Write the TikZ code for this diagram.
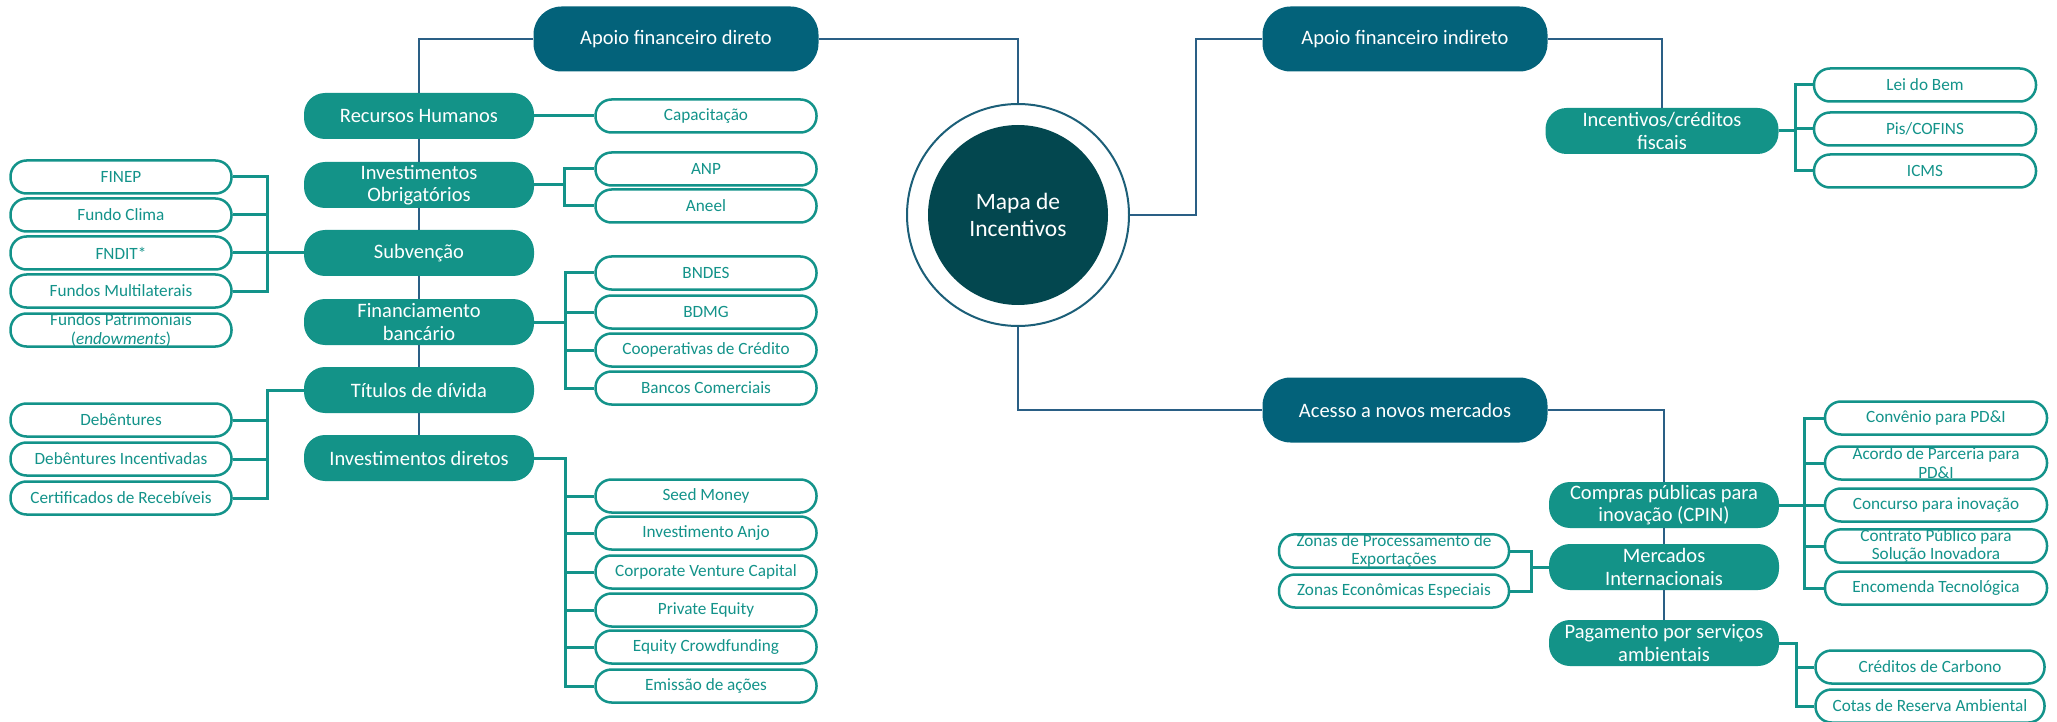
\documentclass[tikz,border=0pt]{standalone}
\usepackage{fontspec}
\setmainfont{Carlito}
\definecolor{lone}{HTML}{03627A}
\definecolor{ltwo}{HTML}{139388}
\definecolor{core}{HTML}{03474F}
\definecolor{ring}{HTML}{1C5F78}
\definecolor{wire}{HTML}{2A5F85}
\definecolor{leafc}{HTML}{13938A}
\tikzset{
  lvlone/.style={fill=lone, text=white, rounded corners=28pt, minimum width=285pt, minimum height=65pt, inner sep=0pt, font=\fontsize{20.5}{23}\selectfont, align=center},
  lvltwo/.style={fill=ltwo, text=white, rounded corners=21pt, minimum width=230pt, minimum height=46pt, inner sep=0pt, font=\fontsize{20.5}{22.5}\selectfont, align=center},
  leaf/.style={draw=leafc, line width=2.5pt, fill=white, text=leafc, rounded corners=16pt, minimum width=221pt, minimum height=33pt, inner sep=0pt, font=\fontsize{17.2}{18.5}\selectfont, align=center},
  wireA/.style={draw=wire, line width=2pt},
  wireB/.style={draw=leafc, line width=3pt},
}
\begin{document}
\begin{tikzpicture}[x=1pt,y=-1pt]
\useasboundingbox (0,0) rectangle (2057,722);
% center
\node[circle, draw=ring, line width=2pt, fill=white, minimum size=222pt, inner sep=0pt] (center) at (1018,215) {};
\node[circle, fill=core, minimum size=180pt, inner sep=0pt, text=white, align=center, font=\fontsize{23.5}{27}\selectfont] (core) at (1018,215) {Mapa de\\Incentivos};
% level one
\node[lvlone] (adir) at (676,39) {Apoio financeiro direto};
\node[lvlone] (aind) at (1405,39) {Apoio financeiro indireto};
\node[lvlone] (acesso) at (1405,410) {Acesso a novos mercados};
% level two left
\node[lvltwo] (rh) at (419,116) {Recursos Humanos};
\node[lvltwo] (io) at (419,185) {Investimentos\\Obrigatórios};
\node[lvltwo] (sub) at (419,253) {Subvenção};
\node[lvltwo] (fin) at (419,322) {Financiamento\\bancário};
\node[lvltwo] (tit) at (419,390) {Títulos de dívida};
\node[lvltwo] (idir) at (419,458) {Investimentos diretos};
% level two right
\node[lvltwo, minimum width=233pt] (icf) at (1662,131) {Incentivos/créditos\\fiscais};
\node[lvltwo] (cpin) at (1664,505) {Compras públicas para\\inovação (CPIN)};
\node[lvltwo] (mi) at (1664,567) {Mercados\\Internacionais};
\node[lvltwo] (psa) at (1664,643) {Pagamento por serviços\\ambientais};
% leaves right of left trunk
\node[leaf] (cap) at (706,116) {Capacitação};
\node[leaf] (anp) at (706,169) {ANP};
\node[leaf] (aneel) at (706,206) {Aneel};
\node[leaf] (bndes) at (706,273) {BNDES};
\node[leaf] (bdmg) at (706,312) {BDMG};
\node[leaf] (coop) at (706,350) {Cooperativas de Crédito};
\node[leaf] (bancos) at (706,388) {Bancos Comerciais};
\node[leaf] (seed) at (706,496) {Seed Money};
\node[leaf] (anjo) at (706,533) {Investimento Anjo};
\node[leaf] (cvc) at (706,572) {Corporate Venture Capital};
\node[leaf] (pe) at (706,610) {Private Equity};
\node[leaf] (ecf) at (706,647) {Equity Crowdfunding};
\node[leaf] (acoes) at (706,686) {Emissão de ações};
% leaves left
\node[leaf] (finep) at (121,177) {FINEP};
\node[leaf] (clima) at (121,215) {Fundo Clima};
\node[leaf] (fndit) at (121,253) {FNDIT*};
\node[leaf] (multi) at (121,291) {Fundos Multilaterais};
\node[leaf] (patrim) at (121,330) {Fundos Patrimoniais\\(\textit{endowments})};
\node[leaf] (deb) at (121,420) {Debêntures};
\node[leaf] (debinc) at (121,459) {Debêntures Incentivadas};
\node[leaf] (cert) at (121,498) {Certificados de Recebíveis};
% leaves right side
\node[leaf, minimum width=222pt] (lei) at (1925,85) {Lei do Bem};
\node[leaf, minimum width=222pt] (pis) at (1925,129) {Pis/COFINS};
\node[leaf, minimum width=222pt] (icms) at (1925,171) {ICMS};
\node[leaf, minimum width=222pt] (conv) at (1936,418) {Convênio para PD\&I};
\node[leaf, minimum width=222pt] (acordo) at (1936,463) {Acordo de Parceria para\\PD\&I};
\node[leaf, minimum width=222pt] (conc) at (1936,505) {Concurso para inovação};
\node[leaf, minimum width=222pt] (contrato) at (1936,546) {Contrato Público para\\Solução Inovadora};
\node[leaf, minimum width=222pt] (encom) at (1936,588) {Encomenda Tecnológica};
\node[leaf, minimum width=230pt] (zpe) at (1394,551) {Zonas de Processamento de\\Exportações};
\node[leaf, minimum width=230pt] (zee) at (1394,591) {Zonas Econômicas Especiais};
\node[leaf, minimum width=229pt] (cc) at (1930,667) {Créditos de Carbono};
\node[leaf, minimum width=229pt] (cra) at (1930,706) {Cotas de Reserva Ambiental};
% junction coordinates
\coordinate (jc) at (1196,215);
\coordinate (bio) at (564,185);
\coordinate (bsub) at (267,253);
\coordinate (bfin) at (565,322);
\coordinate (btit) at (267,390);
\coordinate (bid) at (565,458);
\coordinate (bicf) at (1795,131);
\coordinate (bcp) at (1804,505);
\coordinate (bmi) at (1531,567);
\coordinate (bpsa) at (1796,643);
% main connectors
\draw[wireA] (adir.west) -| (rh.north);
\draw[wireA] (adir.east) -| (center.north);
\draw[wireA] (center.east) -- (jc) |- (aind.west);
\draw[wireA] (center.south) |- (acesso.west);
\draw[wireA] (aind.east) -| (icf.north);
\draw[wireA] (acesso.east) -| (cpin.north);
\draw[wireA] (rh.south) -- (io.north);
\draw[wireA] (io.south) -- (sub.north);
\draw[wireA] (sub.south) -- (fin.north);
\draw[wireA] (fin.south) -- (tit.north);
\draw[wireA] (tit.south) -- (idir.north);
\draw[wireA] (cpin.south) -- (mi.north);
\draw[wireA] (mi.south) -- (psa.north);
% leaf connectors
\draw[wireB] (rh.east) -- (cap.west);
\draw[wireB] (io.east) -- (bio) |- (anp.west);
\draw[wireB] (bio) |- (aneel.west);
\draw[wireB] (sub.west) -- (bsub) -- (fndit.east);
\draw[wireB] (bsub) |- (finep.east);
\draw[wireB] (bsub) |- (clima.east);
\draw[wireB] (bsub) |- (multi.east);
\draw[wireB] (fin.east) -- (bfin) |- (bndes.west);
\draw[wireB] (bfin) |- (bdmg.west);
\draw[wireB] (bfin) |- (coop.west);
\draw[wireB] (bfin) |- (bancos.west);
\draw[wireB] (tit.west) -- (btit) |- (deb.east);
\draw[wireB] (btit) |- (debinc.east);
\draw[wireB] (btit) |- (cert.east);
\draw[wireB] (idir.east) -- (bid) |- (seed.west);
\draw[wireB] (bid) |- (anjo.west);
\draw[wireB] (bid) |- (cvc.west);
\draw[wireB] (bid) |- (pe.west);
\draw[wireB] (bid) |- (ecf.west);
\draw[wireB] (bid) |- (acoes.west);
\draw[wireB] (icf.east) -- (bicf) |- (lei.west);
\draw[wireB] (bicf) |- (pis.west);
\draw[wireB] (bicf) |- (icms.west);
\draw[wireB] (cpin.east) -- (bcp) |- (conv.west);
\draw[wireB] (bcp) |- (acordo.west);
\draw[wireB] (bcp) |- (conc.west);
\draw[wireB] (bcp) |- (contrato.west);
\draw[wireB] (bcp) |- (encom.west);
\draw[wireB] (mi.west) -- (bmi) |- (zpe.east);
\draw[wireB] (bmi) |- (zee.east);
\draw[wireB] (psa.east) -- (bpsa) |- (cc.west);
\draw[wireB] (bpsa) |- (cra.west);
\end{tikzpicture}
\end{document}
